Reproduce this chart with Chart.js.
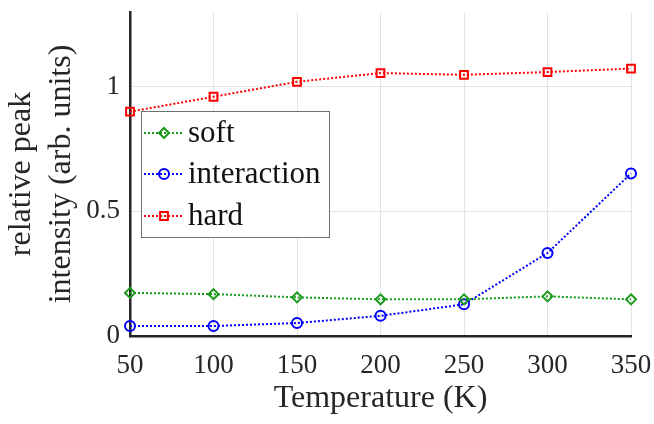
<!DOCTYPE html>
<html>
<head>
<meta charset="utf-8">
<script src="https://cdn.jsdelivr.net/npm/chart.js@4"></script>
<style>
  html, body { margin: 0; padding: 0; background: #fff; }
  #wrap { width: 654px; height: 424px; }
</style>
</head>
<body>
<div id="wrap"><canvas id="myChart" width="654" height="424"></canvas></div>
<script>
// Temperature steps (K)
const temps = [50, 100, 150, 200, 250, 300, 350];

// relative peak intensity per component
const soft        = [0.173, 0.168, 0.155, 0.147, 0.147, 0.159, 0.147];
const interaction = [0.040, 0.040, 0.052, 0.081, 0.127, 0.333, 0.652];
const hard        = [0.900, 0.960, 1.020, 1.055, 1.048, 1.059, 1.073];

const yTicks = [0, 0.5, 1];

const serif = "'Liberation Serif', 'DejaVu Serif', serif";

function pts(vals) {
    return temps.map((t, i) => ({x: t, y: vals[i]}));
}

function series(label, vals, color, style, radius) {
    return {
        label: label,
        data: pts(vals),
        borderColor: color,
        borderWidth: 2,
        borderDash: [2, 2],
        pointStyle: style,
        pointRadius: radius,
        pointBorderWidth: 2,
        pointBorderColor: color,
        pointBackgroundColor: 'rgba(0,0,0,0)',
        fill: false,
        tension: 0,
        clip: false
    };
}

// legend box drawn inside the plot, like the matlab one
const boxLegend = {
    id: 'boxLegend',
    afterDatasetsDraw(chart) {
        const ctx = chart.ctx;
        const area = chart.chartArea;
        const x0 = area.left + 11, y0 = area.top + 99;
        const w = 188, h = 126;
        ctx.save();
        ctx.fillStyle = '#fff';
        ctx.fillRect(x0, y0, w, h);
        ctx.strokeStyle = '#707070';
        ctx.lineWidth = 1;
        ctx.strokeRect(x0 + 0.5, y0 + 0.5, w, h);
        const rows = [22, 63, 105];
        chart.data.datasets.forEach((ds, i) => {
            const y = y0 + rows[i];
            ctx.strokeStyle = ds.borderColor;
            ctx.lineWidth = 2;
            ctx.setLineDash([2, 2]);
            ctx.beginPath();
            ctx.moveTo(x0 + 3, y);
            ctx.lineTo(x0 + 41, y);
            ctx.stroke();
            ctx.setLineDash([]);
            ctx.fillStyle = 'rgba(0,0,0,0)';
            Chart.helpers.drawPoint(ctx, {pointStyle: ds.pointStyle, radius: ds.pointRadius, borderWidth: 2}, x0 + 23, y);
            ctx.fillStyle = '#111';
            ctx.font = '31px ' + serif;
            ctx.textBaseline = 'middle';
            ctx.fillText(ds.label, x0 + 47, y + 1);
        });
        ctx.restore();
    }
};

const ctx = document.getElementById('myChart');
const myChart = new Chart(ctx, {
    type: 'line',
    data: {
        datasets: [
            series('soft', soft, '#1a9a1a', 'rectRot', 5),
            series('interaction', interaction, '#0000ff', 'circle', 5),
            series('hard', hard, '#ff0000', 'rect', 5.5)
        ]
    },
    options: {
        responsive: false,
        animation: false,
        layout: { padding: { top: 12, right: 23, left: 0, bottom: 0 } },
        scales: {
            x: {
                type: 'linear',
                min: 50,
                max: 350,
                ticks: {
                    stepSize: 50,
                    color: '#262626',
                    padding: 14,
                    font: { family: serif, size: 27 }
                },
                grid: { color: '#e4e4e4', lineWidth: 1, drawTicks: false },
                border: { color: '#262626', width: 2.5 },
                title: {
                    display: true,
                    text: 'Temperature (K)',
                    color: '#262626',
                    padding: { top: 0, bottom: 6 },
                    font: { family: serif, size: 32 }
                },
                afterFit: s => { s.height = 88; s.paddingLeft = 0; s.paddingRight = 0; }
            },
            y: {
                min: 0,
                max: 1.3,
                afterBuildTicks: s => { s.ticks = yTicks.map(v => ({value: v})); },
                ticks: {
                    color: '#262626',
                    padding: 10,
                    font: { family: serif, size: 27 },
                    callback: v => String(v)
                },
                grid: { color: '#e4e4e4', lineWidth: 1, drawTicks: false },
                border: { color: '#262626', width: 2.5 },
                title: {
                    display: true,
                    text: ['relative peak', 'intensity (arb. units)'],
                    color: '#262626',
                    padding: { top: 2, bottom: 0 },
                    font: { family: serif, size: 32, lineHeight: 1.25 }
                },
                afterFit: s => { s.width = 130; s.paddingTop = 0; s.paddingBottom = 0; }
            }
        },
        plugins: {
            legend: { display: false },
            tooltip: { enabled: false }
        }
    },
    plugins: [boxLegend]
});
</script>
</body>
</html>
